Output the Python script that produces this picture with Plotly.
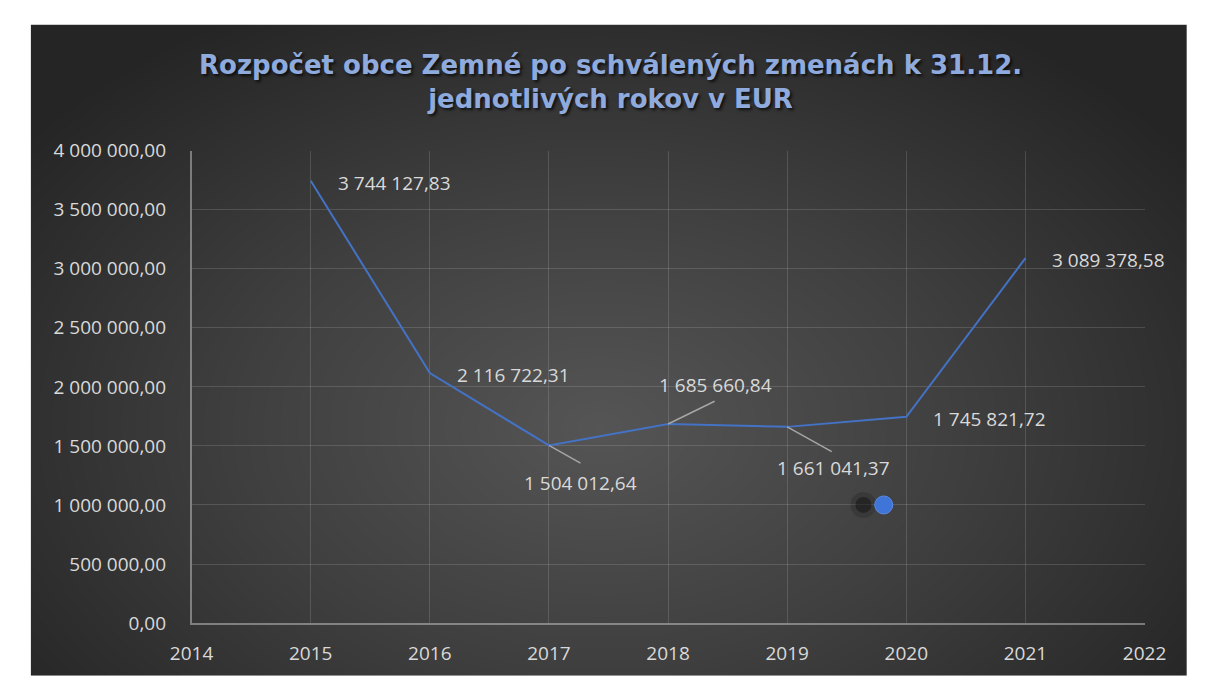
import numpy as np
import plotly.graph_objects as go

# ---------------- data ----------------
years = [2015, 2016, 2017, 2018, 2019, 2020, 2021]
budget = [3744127.83, 2116722.31, 1504012.64, 1685660.84, 1661041.37, 1745821.72, 3089378.58]
x_ticks = [2014, 2015, 2016, 2017, 2018, 2019, 2020, 2021, 2022]
y_ticks = [0, 500000, 1000000, 1500000, 2000000, 2500000, 3000000, 3500000, 4000000]
y_tick_labels = ["0,00", "500 000,00", "1 000 000,00", "1 500 000,00", "2 000 000,00",
                 "2 500 000,00", "3 000 000,00", "3 500 000,00", "4 000 000,00"]
stray_x = [2019.81]
stray_y = [1000000]
title_text = "Rozpočet obce Zemné po schválených zmenách k 31.12.<br>jednotlivých rokov v EUR"


def fmt(v):
    s = f"{v:,.2f}"
    return s.replace(",", " ").replace(".", ",")


# ---------------- layout geometry (px) ----------------
W, H = 1209, 689
PL, PR, PT, PB = 176, 1165, 143, 634
BG_L, BG_T = 9, 12
TXT = "#d9d9d9"
FONT = "Open Sans"

fig = go.Figure()

# radial background gradient (decoration)
gx = np.linspace(0, W + 10, 130)
gy = np.linspace(0, H + 10, 80)
GX, GY = np.meshgrid(gx, gy)
cx, cy = 600, 430
dist = np.sqrt(((GX - cx) / (W * 0.62)) ** 2 + ((GY - cy) / (H * 0.72)) ** 2)
dist = np.clip(dist, 0, 1)
fig.add_trace(go.Heatmap(x=gx, y=gy, z=dist, zmin=0, zmax=1, zsmooth="best",
                         colorscale=[[0, "#555555"], [0.5, "#3f3f3f"], [1, "#252525"]],
                         showscale=False, hoverinfo="skip", xaxis="x", yaxis="y"))

# main line
fig.add_trace(go.Scatter(x=years, y=budget, mode="lines",
                         line=dict(color="#4472c4", width=2),
                         xaxis="x2", yaxis="y2", hoverinfo="skip"))

# stray marker with soft shadow
px_per_year = (PR - PL) / (x_ticks[-1] - x_ticks[0])
shadow_dx = -21 / px_per_year
fig.add_trace(go.Scatter(x=[v + shadow_dx for v in stray_x], y=stray_y, mode="markers",
                         marker=dict(size=26, color="rgba(0,0,0,0.15)", line=dict(width=0)),
                         xaxis="x2", yaxis="y2", hoverinfo="skip"))
fig.add_trace(go.Scatter(x=[v + shadow_dx for v in stray_x], y=stray_y, mode="markers",
                         marker=dict(size=16, color="rgba(0,0,0,0.35)", line=dict(width=0)),
                         xaxis="x2", yaxis="y2", hoverinfo="skip"))
fig.add_trace(go.Scatter(x=stray_x, y=stray_y, mode="markers",
                         marker=dict(size=18, color="#3f74d8", line=dict(width=1, color="#5b8ae6")),
                         xaxis="x2", yaxis="y2", hoverinfo="skip"))

# data labels
right_labels = {2015, 2016, 2020, 2021}
leaders = {  # leader dx, dy, text dx, dy (screen px, y down)
    2017: (32, 18, 32, 38),
    2018: (47, -23, 47, -39),
    2019: (45, 25, 46, 41),
}
annotations = []
for yr, v in zip(years, budget):
    if yr in right_labels:
        annotations.append(dict(x=yr, y=v, xref="x2", yref="y2", text=fmt(v), showarrow=False,
                                xanchor="left", yanchor="middle", xshift=25, yshift=-2,
                                font=dict(family=FONT, size=19, color=TXT)))
    else:
        ldx, ldy, tdx, tdy = leaders[yr]
        annotations.append(dict(x=yr, y=v, xref="x2", yref="y2", text=" ", showarrow=True,
                                ax=ldx, ay=ldy, arrowhead=0, arrowwidth=1.5, arrowcolor="#a6a6a6",
                                font=dict(size=1), borderpad=0))
        annotations.append(dict(x=yr, y=v, xref="x2", yref="y2", text=fmt(v), showarrow=False,
                                xanchor="center", yanchor="middle", xshift=tdx, yshift=-tdy,
                                font=dict(family=FONT, size=19, color=TXT)))

# title
annotations.append(dict(x=611 / W, y=1 - 72 / H, xref="paper", yref="paper", text=title_text,
                        showarrow=False, xanchor="center", yanchor="middle", align="center",
                        font=dict(family="DejaVu Sans", size=26, color="#8faadc", weight="bold",
                                  shadow="2px 2px 3px rgba(0,0,0,0.7)")))

grid = "rgba(217,217,217,0.17)"
fig.update_layout(
    width=W, height=H, margin=dict(l=0, r=0, t=0, b=0),
    paper_bgcolor="white", plot_bgcolor="rgba(0,0,0,0)", showlegend=False,
    xaxis=dict(domain=[BG_L / W, 1], range=[BG_L, W], visible=False, fixedrange=True),
    yaxis=dict(domain=[0, 1 - BG_T / H], range=[H, BG_T], visible=False, fixedrange=True),
    xaxis2=dict(domain=[PL / W, PR / W], anchor="y2", range=[x_ticks[0], x_ticks[-1]],
                tickmode="array", tickvals=x_ticks, ticktext=[str(t) for t in x_ticks],
                showgrid=True, gridcolor=grid, gridwidth=1, zeroline=False,
                showline=True, linecolor="rgba(217,217,217,0.45)", linewidth=1.5,
                ticks="outside", ticklen=12, tickcolor="rgba(0,0,0,0)",
                tickfont=dict(family=FONT, size=19, color=TXT)),
    yaxis2=dict(domain=[1 - PB / H, 1 - PT / H], anchor="x2", range=[y_ticks[0], y_ticks[-1]],
                tickmode="array", tickvals=y_ticks, ticktext=y_tick_labels,
                showgrid=True, gridcolor=grid, gridwidth=1, zeroline=False,
                showline=True, linecolor="rgba(217,217,217,0.45)", linewidth=1.5,
                ticks="outside", ticklen=20, tickcolor="rgba(0,0,0,0)",
                tickfont=dict(family=FONT, size=19, color=TXT)),
    annotations=annotations,
)

fig.write_html("out.html", config={"displayModeBar": False},
               post_script="document.body.style.margin='0';document.body.style.overflow='hidden';")
